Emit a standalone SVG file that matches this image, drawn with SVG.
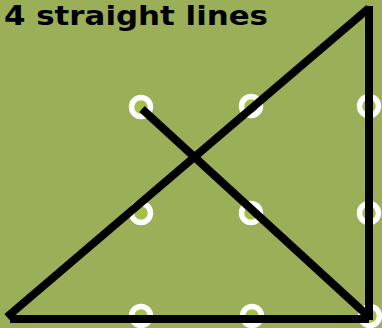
<svg xmlns="http://www.w3.org/2000/svg" width="382" height="328" viewBox="0 0 382 328">
<style>
.dot{fill:#a5c046;stroke:#ffffff;stroke-width:5.5}
.ln{stroke:#000000;stroke-width:8;fill:none;stroke-linecap:butt}
.t{font-family:"DejaVu Sans",sans-serif;font-weight:bold;font-size:27px;fill:#000000}
</style>
<rect width="382" height="328" fill="#9aaf57"/>
<text class="t" x="4" y="25" textLength="264" lengthAdjust="spacingAndGlyphs">4 straight lines</text>
<g id="dots">
<circle id="d1" class="dot" cx="141" cy="107" r="9.5"/>
<circle id="d2" class="dot" cx="251" cy="106" r="9.5"/>
<circle id="d3" class="dot" cx="369" cy="106" r="9.5"/>
<circle id="d4" class="dot" cx="141" cy="213" r="9.5"/>
<circle id="d5" class="dot" cx="251" cy="213" r="9.5"/>
<circle id="d6" class="dot" cx="369" cy="213" r="9.5"/>
<circle id="d7" class="dot" cx="141" cy="316" r="9.5"/>
<circle id="d8" class="dot" cx="252" cy="316" r="9.5"/>
<circle id="d9" class="dot" cx="370" cy="316" r="9.5"/>
</g>
<g id="connectors">
<line class="ln" x1="7" y1="317" x2="369" y2="8"/>
<line class="ln" x1="369" y1="6" x2="369" y2="320"/>
<line class="ln" x1="10" y1="319" x2="369" y2="319"/>
<line class="ln" x1="142" y1="109" x2="368" y2="316"/>
</g>
</svg>
